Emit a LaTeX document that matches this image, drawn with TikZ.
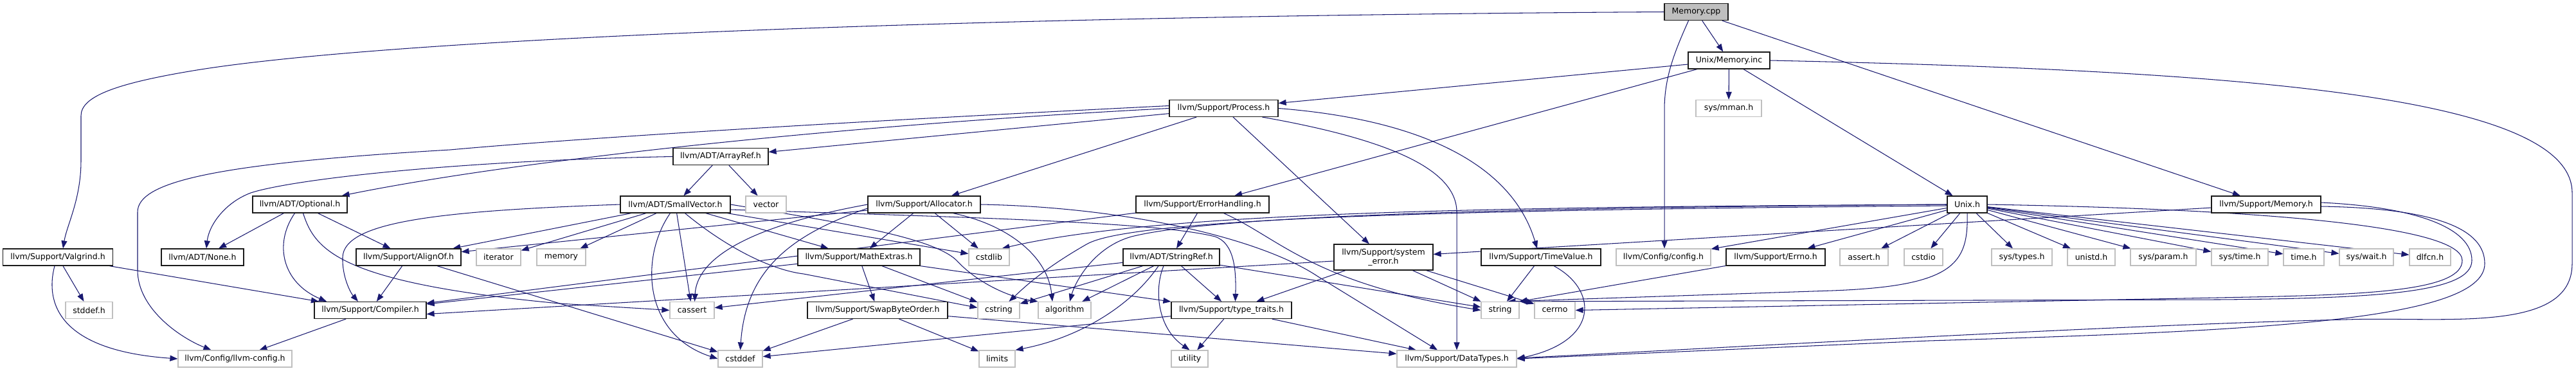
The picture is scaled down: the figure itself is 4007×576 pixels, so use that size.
\documentclass[tikz,border=0pt]{standalone}
\usepackage{fontspec}
\setmainfont{DejaVu Sans}
\usetikzlibrary{arrows.meta}
\definecolor{edgec}{HTML}{191970}
\definecolor{grayb}{HTML}{BFBFBF}
\definecolor{rootf}{HTML}{BFBFBF}
\definecolor{docb}{HTML}{1A1A1A}
\pgfdeclarelayer{bg}
\pgfsetlayers{bg,main}
\tikzset{
 box/.style={rectangle, minimum height=26pt, inner sep=0pt, line width=1.2pt, font=\fontsize{12.5}{14}\selectfont, fill=white, align=center},
 doc/.style={box, draw=docb},
 sys/.style={box, draw=grayb},
 root/.style={box, draw=docb, fill=rootf},
 dep/.style={draw=edgec, line width=1.05pt, -{Triangle[length=12pt,width=9pt]}},
}
\begin{document}
\begin{tikzpicture}[x=1pt,y=-1pt]
\useasboundingbox (0,0) rectangle (4007,576);
% row 0-3
\node[root, minimum width=99pt] (mcpp) at (2638.5,18.5) {Memory.cpp};
\node[doc, minimum width=127pt] (minc) at (2689.5,94) {Unix/Memory.inc};
\node[doc, minimum width=169pt] (proc) at (1903.5,168.5) {llvm/Support/Process.h};
\node[sys, minimum width=102pt] (mman) at (2689,168.5) {sys/mman.h};
\node[doc, minimum width=148pt] (aref) at (1121,243.5) {llvm/ADT/ArrayRef.h};
% row 4
\node[doc, minimum width=147pt] (opt) at (466.5,318) {llvm/ADT/Optional.h};
\node[doc, minimum width=171pt] (sv) at (1050.5,318) {llvm/ADT/SmallVector.h};
\node[sys, minimum width=63pt] (vec) at (1191.5,318) {vector};
\node[doc, minimum width=175pt] (alloc) at (1437.5,318) {llvm/Support/Allocator.h};
\node[doc, minimum width=207pt] (errh) at (1870.5,318) {llvm/Support/ErrorHandling.h};
\node[doc, minimum width=62pt] (unixh) at (3060,318) {Unix.h};
\node[doc, minimum width=170pt] (memh) at (3525,318) {llvm/Support/Memory.h};
% row 5
\node[doc, minimum width=171pt] (valg) at (90,400) {llvm/Support/Valgrind.h};
\node[doc, minimum width=128pt] (none) at (315,400) {llvm/ADT/None.h};
\node[doc, minimum width=163pt] (align) at (635.5,400) {llvm/Support/AlignOf.h};
\node[sys, minimum width=69pt] (iter) at (775.5,400) {iterator};
\node[sys, minimum width=76pt] (mem) at (873,400) {memory};
\node[doc, minimum width=190pt] (mext) at (1336,400) {llvm/Support/MathExtras.h};
\node[sys, minimum width=63pt] (cstdlib) at (1538.5,400) {cstdlib};
\node[doc, minimum width=150pt] (sref) at (1822,400) {llvm/ADT/StringRef.h};
\node[doc, minimum width=154pt, minimum height=40pt] (syserr) at (2152,400) {llvm/Support/system\\\_error.h};
\node[doc, minimum width=186pt] (timev) at (2397,400) {llvm/Support/TimeValue.h};
\node[sys, minimum width=147pt] (config) at (2587.5,400) {llvm/Config/config.h};
\node[doc, minimum width=154pt] (errno) at (2762,400) {llvm/Support/Errno.h};
\node[sys, minimum width=75pt] (asserth) at (2899.5,400) {assert.h};
\node[sys, minimum width=60pt] (cstdio) at (2992,400) {cstdio};
\node[sys, minimum width=94pt] (systypes) at (3145,400) {sys/types.h};
\node[sys, minimum width=74pt] (unistd) at (3253,400) {unistd.h};
\node[sys, minimum width=102pt] (sysparam) at (3365,400) {sys/param.h};
\node[sys, minimum width=88pt] (systime) at (3484,400) {sys/time.h};
\node[sys, minimum width=63pt] (timeh) at (3583.5,400) {time.h};
\node[sys, minimum width=84pt] (syswait) at (3681,400) {sys/wait.h};
\node[sys, minimum width=64pt] (dlfcn) at (3780,400) {dlfcn.h};
% row 6
\node[sys, minimum width=73pt] (stddef) at (138.5,482.5) {stddef.h};
\node[doc, minimum width=174pt] (comp) at (576,482.5) {llvm/Support/Compiler.h};
\node[sys, minimum width=69pt] (cassert) at (1076.5,482.5) {cassert};
\node[doc, minimum width=218pt] (sbo) at (1365,482.5) {llvm/Support/SwapByteOrder.h};
\node[sys, minimum width=65pt] (cstring) at (1553.5,482.5) {cstring};
\node[sys, minimum width=82pt] (algo) at (1656,482.5) {algorithm};
\node[doc, minimum width=187pt] (tt) at (1915.5,482.5) {llvm/Support/type\_traits.h};
\node[sys, minimum width=59pt] (strng) at (2333.5,482.5) {string};
\node[sys, minimum width=63pt] (cerrno) at (2418.5,482.5) {cerrno};
% row 7
\node[sys, minimum width=177pt] (lcfg) at (365.5,558) {llvm/Config/llvm-config.h};
\node[sys, minimum width=69pt] (cstddef) at (1151.5,558) {cstddef};
\node[sys, minimum width=56pt] (limits) at (1551,558) {limits};
\node[sys, minimum width=57pt] (utility) at (1850.5,558) {utility};
\node[sys, minimum width=186pt] (dtypes) at (2266,558) {llvm/Support/DataTypes.h};

\begin{pgfonlayer}{bg}
\fill[white] (0,0) rectangle (4007,576);
% Memory.cpp
\draw[dep] (mcpp.west) .. controls (1500,25) and (600,60) .. (300,110) .. controls (180,130) and (126,150) .. (126,180) -- (126,250) .. controls (126,310) and (104,350) .. ([xshift=8pt]valg.north);
\draw[dep] (mcpp) -- (minc);
\draw[dep] ([xshift=-12pt]mcpp.south) .. controls (2605,80) and (2589,120) .. (2589,170) -- ([xshift=1.5pt]config.north);
\draw[dep] (mcpp) -- (memh);
% Unix/Memory.inc
\draw[dep] (minc) -- (proc);
\draw[dep] (minc) -- (errh);
\draw[dep] (minc) -- (mman);
\draw[dep] (minc) -- (unixh);
\draw[dep] (minc.east) .. controls (3500,110) and (4001,150) .. (4001,300) -- (4001,410) .. controls (4001,520) and (3800,492) .. (3650,497) .. controls (3300,505) and (2700,540) .. ([yshift=1pt]dtypes.east);
% Process.h
\draw[dep] (proc) -- (aref);
\draw[dep] (proc.west) .. controls (1300,195) and (800,250) .. ([xshift=65pt]opt.north);
\draw[dep] ([yshift=4pt]proc.west) .. controls (1300,190) and (900,215) .. (700,233) .. controls (320,255) and (214,285) .. (214,330) -- (214,420) .. controls (214,480) and (280,525) .. ([xshift=-37pt]lcfg.north);
\draw[dep] (proc) -- (alloc);
\draw[dep] (proc) -- (syserr);
\draw[dep] (proc.east) .. controls (2200,185) and (2350,250) .. ([xshift=-6pt]timev.north);
\draw[dep] ([xshift=60pt]proc.south) .. controls (2150,215) and (2266,260) .. (2266,330) -- (dtypes.north);
% ArrayRef
\draw[dep] (aref.west) .. controls (700,250) and (450,280) .. (390,300) .. controls (350,315) and (325,350) .. ([xshift=6pt]none.north);
\draw[dep] (aref) -- (sv);
\draw[dep] (aref) -- (vec);
% Optional
\draw[dep] (opt) -- (none);
\draw[dep] (opt) -- (align);
\draw[dep] ([xshift=-8pt]opt.south) .. controls (425,380) and (440,440) .. ([xshift=-68pt]comp.north);
\draw[dep] ([xshift=5pt]opt.south) .. controls (490,390) and (530,440) .. (870,472) -- (cassert.west);
% SmallVector
\draw[dep] (sv) -- (align);
\draw[dep] (sv.west) .. controls (680,328) and (535,345) .. (533,400) .. controls (532,430) and (545,455) .. ([xshift=-19pt]comp.north);
\draw[dep] (sv) -- (mext);
\draw[dep] ([yshift=-8pt]sv.east) .. controls (1500,338) and (1800,345) .. (1890,368) .. controls (1920,378) and (1923,420) .. ([xshift=6pt]tt.north);
\draw[dep] (sv.east) .. controls (1300,345) and (1450,368) .. (1488,405) .. controls (1520,440) and (1570,462) .. (algo.north west);
\draw[dep] (sv) -- (cassert);
\draw[dep] ([xshift=-8pt]sv.south) .. controls (995,400) and (1000,520) .. (cstddef.west);
\draw[dep] (sv) -- (cstdlib);
\draw[dep] ([xshift=15pt]sv.south) .. controls (1130,385) and (1200,420) .. (1250,426) -- ([yshift=4pt]cstring.west);
\draw[dep] (sv) -- (iter);
\draw[dep] (sv) -- (mem);
% Allocator
\draw[dep] (alloc) -- (align);
\draw[dep] (alloc.east) .. controls (1750,322) and (1960,370) .. (2050,430) -- ([xshift=-30pt]dtypes.north);
\draw[dep] (alloc) -- (mext);
\draw[dep] (alloc) -- (cstdlib);
\draw[dep] ([xshift=45pt]alloc.south) .. controls (1570,350) and (1630,400) .. ([xshift=-19pt]algo.north);
\draw[dep] (alloc.west) .. controls (1200,345) and (1085,390) .. ([xshift=4pt]cassert.north);
\draw[dep] ([yshift=-6pt]alloc.west) .. controls (1230,365) and (1160,420) .. (cstddef.north);
% MathExtras
\draw[dep] (mext) -- (comp);
\draw[dep] (mext) -- (sbo);
\draw[dep] (mext) -- (tt);
\draw[dep] (mext) -- (cstring);
% SwapByteOrder
\draw[dep] (sbo) -- (dtypes);
\draw[dep] (sbo) -- (cstddef);
\draw[dep] (sbo) -- (limits);
% type_traits
\draw[dep] (tt) -- (dtypes);
\draw[dep] (tt) -- (utility);
\draw[dep] (tt) -- (cstddef);
% StringRef
\draw[dep] (sref) -- (tt);
\draw[dep] (sref) -- (algo);
\draw[dep] (sref) -- (cassert);
\draw[dep] (sref) -- (cstring);
\draw[dep] ([xshift=-20pt]sref.south) .. controls (1760,475) and (1680,525) .. (limits.north east);
\draw[dep] (sref) -- (strng);
\draw[dep] ([xshift=-12pt]sref.south) .. controls (1795,450) and (1800,510) .. (utility.north);
% ErrorHandling
\draw[dep] (errh) -- (sref);
\draw[dep] (errh) -- (comp);
\draw[dep] ([xshift=33pt]errh.south) .. controls (1990,370) and (2040,440) .. (strng.west);
% system_error
\draw[dep] ([yshift=-6pt]syserr.west) -- ([yshift=-6pt]comp.east);
\draw[dep] (syserr) -- (tt);
\draw[dep] (syserr) -- (strng);
\draw[dep] (syserr) -- (cerrno);
% TimeValue
\draw[dep] (timev) -- (strng);
\draw[dep] ([xshift=20pt]timev.south) .. controls (2485,450) and (2490,530) .. (dtypes.east);
% AlignOf
\draw[dep] (align) -- (comp);
\draw[dep] (align) -- (cstddef);
% Valgrind
\draw[dep] (valg) -- (comp);
\draw[dep] (valg) -- (stddef);
\draw[dep] ([xshift=-5pt]valg.south) .. controls (70,470) and (90,545) .. (lcfg.west);
% Compiler
\draw[dep] (comp) -- (lcfg);
% Unix.h
\draw[dep] (unixh) -- (config);
\draw[dep] (unixh) -- (errno);
\draw[dep] (unixh) -- (asserth);
\draw[dep] (unixh) -- (cstdio);
\draw[dep] (unixh) -- (systypes);
\draw[dep] (unixh) -- (unistd);
\draw[dep] (unixh) -- (sysparam);
\draw[dep] (unixh) -- (systime);
\draw[dep] (unixh) -- (timeh);
\draw[dep] (unixh) -- (syswait);
\draw[dep] (unixh) -- (dlfcn);
\draw[dep] (unixh.west) .. controls (2400,323) and (1900,333) .. (1760,368) .. controls (1700,385) and (1672,440) .. ([xshift=8pt]algo.north);
\draw[dep] (unixh.west) .. controls (2300,322) and (1800,330) .. ([xshift=20pt]cstdlib.north);
\draw[dep] ([yshift=-2pt]unixh.west) .. controls (2300,326) and (1760,338) .. (1690,380) .. controls (1620,420) and (1590,450) .. ([xshift=16pt]cstring.north);
\draw[dep] (unixh.south) .. controls (3062,410) and (3040,445) .. (2850,452) -- ([xshift=12pt]strng.north);
\draw[dep] (unixh.east) .. controls (3500,325) and (3830,350) .. (3830,405) .. controls (3830,450) and (3700,458) .. (3500,462) -- (cerrno.east);
% Errno
\draw[dep] (errno) -- (strng.north east);
% Memory.h
\draw[dep] (memh) -- (syserr);
\draw[dep] ([yshift=3pt]memh.east) .. controls (3760,322) and (3845,355) .. (3845,405) .. controls (3845,455) and (3700,464) .. (3450,466) -- (strng.north east);
\draw[dep] ([yshift=-3pt]memh.east) .. controls (3800,324) and (3865,360) .. (3865,410) .. controls (3865,500) and (3500,515) .. (3000,530) -- (dtypes.east);
\end{pgfonlayer}
\end{tikzpicture}
\end{document}
